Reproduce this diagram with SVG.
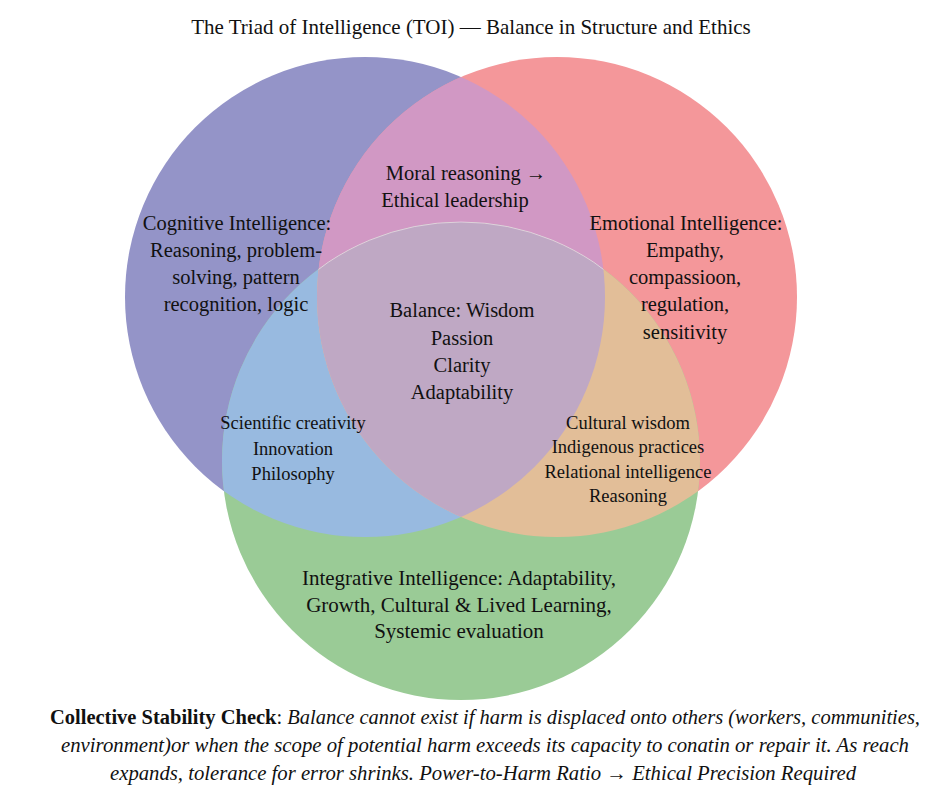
<svg xmlns="http://www.w3.org/2000/svg" width="940" height="788" viewBox="0 0 940 788">
<defs>
<style>
text{font-family:"Liberation Serif","Times New Roman",serif;fill:#111;text-anchor:middle}
.t{font-size:21px}
.l{font-size:20.5px}
.g{font-size:21px}
.s{font-size:18.5px}
.b{font-size:20.5px}
</style>
<clipPath id="cP"><circle cx="365" cy="297" r="240"/></clipPath>
<clipPath id="cK"><circle cx="557" cy="297" r="240"/></clipPath>
</defs>
<rect width="940" height="788" fill="#fff"/>
<text class="t" x="471" y="34">The Triad of Intelligence (TOI) — Balance in Structure and Ethics</text>
<g id="venn">
<circle id="cognitive" cx="365" cy="297" r="240" fill="#9494C8"/>
<circle id="emotional" cx="557" cy="297" r="240" fill="#F4979A"/>
<circle id="integrative" cx="461" cy="461" r="239" fill="#9ACB96"/>
<circle id="cog-emo" cx="557" cy="297" r="240" fill="#D198C4" clip-path="url(#cP)"/>
<circle id="cog-int" cx="461" cy="461" r="239" fill="#98BAE0" clip-path="url(#cP)"/>
<circle id="emo-int" cx="461" cy="461" r="239" fill="#E2BE98" clip-path="url(#cK)"/>
<g clip-path="url(#cP)"><circle id="center" cx="461" cy="461" r="239" fill="#BFA8C4" clip-path="url(#cK)"/></g>
<g clip-path="url(#cP)"><g clip-path="url(#cK)"><circle cx="461" cy="461" r="239" fill="none" stroke="#fff" stroke-opacity="0.45" stroke-width="1"/></g></g>
</g>
<g id="connectors"/>
<g id="label-moral">
<text class="l" x="466" y="180">Moral reasoning →</text>
<text class="l" x="455" y="207">Ethical leadership</text>
</g>
<g id="label-cognitive">
<text class="l" x="237" y="230">Cognitive Intelligence:</text>
<text class="l" x="236" y="257">Reasoning, problem-</text>
<text class="l" x="236" y="284">solving, pattern</text>
<text class="l" x="236" y="311">recognition, logic</text>
</g>
<g id="label-emotional">
<text class="l" x="686" y="230">Emotional Intelligence:</text>
<text class="l" x="685" y="257">Empathy,</text>
<text class="l" x="685" y="284">compassioon,</text>
<text class="l" x="685" y="311">regulation,</text>
<text class="l" x="685" y="339">sensitivity</text>
</g>
<g id="label-balance">
<text class="l" x="462" y="317">Balance: Wisdom</text>
<text class="l" x="462" y="345">Passion</text>
<text class="l" x="462" y="372">Clarity</text>
<text class="l" x="462" y="399">Adaptability</text>
</g>
<g id="label-science">
<text class="s" x="293" y="429">Scientific creativity</text>
<text class="s" x="293" y="455">Innovation</text>
<text class="s" x="293" y="480">Philosophy</text>
</g>
<g id="label-culture">
<text class="s" x="628" y="429">Cultural wisdom</text>
<text class="s" x="628" y="453">Indigenous practices</text>
<text class="s" x="628" y="478">Relational intelligence</text>
<text class="s" x="628" y="502">Reasoning</text>
</g>
<g id="label-integrative">
<text class="g" x="459" y="585">Integrative Intelligence: Adaptability,</text>
<text class="g" x="459" y="612">Growth, Cultural &amp; Lived Learning,</text>
<text class="g" x="459" y="638">Systemic evaluation</text>
</g>
<g id="note">
<text class="b" x="485" y="724" textLength="870" lengthAdjust="spacingAndGlyphs"><tspan font-weight="bold">Collective Stability Check</tspan>: <tspan font-style="italic">Balance cannot exist if harm is displaced onto others (workers, communities,</tspan></text>
<text class="b" x="485" y="752" font-style="italic" textLength="848" lengthAdjust="spacingAndGlyphs">environment)or when the scope of potential harm exceeds its capacity to conatin or repair it. As reach</text>
<text class="b" x="483" y="780" font-style="italic" textLength="746" lengthAdjust="spacingAndGlyphs">expands, tolerance for error shrinks. Power-to-Harm Ratio → Ethical Precision Required</text>
</g>
</svg>
